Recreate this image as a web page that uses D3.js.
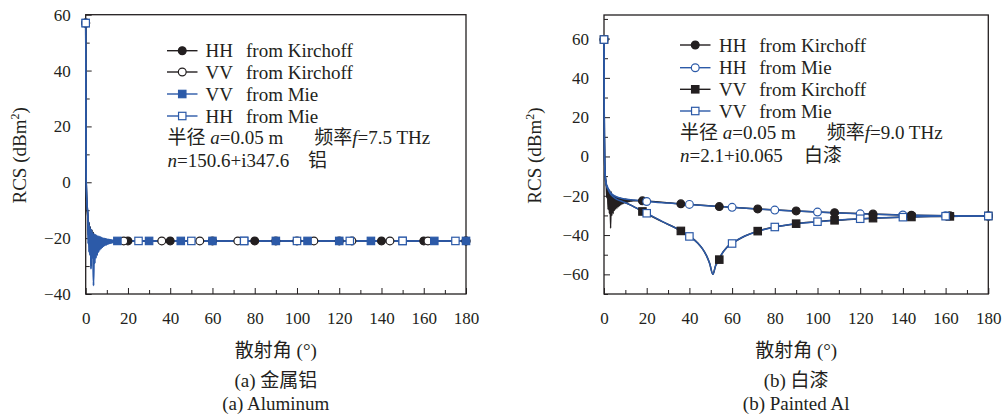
<!DOCTYPE html>
<html>
<head>
<meta charset="utf-8">
<script src="https://cdn.jsdelivr.net/npm/d3@7"></script>
<style>
  body { margin: 0; background: #fff; }
  svg { display: block; }
  text { font-family: "Liberation Serif", "Times New Roman", Times, "DejaVu Serif", serif, "Noto Sans CJK SC"; fill: #231f20; }
</style>
</head>
<body>
<svg id="chart" width="1002" height="416"></svg>
<script>
// ---------- (a) aluminium, f = 7.5 THz : [angle (deg), RCS (dBm^2)] ----------
// HH and VV from Mie lie on top of each other, same for the Kirchhoff pair
const aMie = [
  [0, 57], [0.04, 45], [0.08, 32], [0.12, 18], [0.18, 6], [0.3, -1], [0.5, -6], [0.75, -9],
  [1.0, -11], [1.2, -22], [1.4, -14], [1.6, -25], [1.8, -15.5], [2.0, -26], [2.2, -16.5],
  [2.5, -31], [2.8, -17], [3.1, -27], [3.4, -18], [3.7, -37], [4.0, -18.5], [4.3, -29],
  [4.6, -18.8], [4.9, -27], [5.2, -19], [5.5, -26], [5.8, -19.2], [6.1, -25], [6.4, -19.4],
  [6.7, -24.2], [7.0, -19.6], [7.3, -23.7], [7.6, -19.8], [7.9, -23.3], [8.2, -20], [8.5, -22.9],
  [8.8, -20.1], [9.1, -22.6], [9.4, -20.2], [9.7, -22.4], [10.0, -20.3], [10.3, -22.2],
  [10.6, -20.4], [10.9, -22], [11.2, -20.5], [11.5, -21.9], [11.8, -20.6], [12.1, -21.7],
  [12.4, -20.7], [12.7, -21.6], [13.0, -20.8], [13.3, -21.5], [13.6, -20.9], [13.9, -21.4],
  [14.2, -21], [14.5, -21.3],
  [15, -21], [25, -21], [30, -21], [45, -21], [50, -21], [60, -21], [75, -21], [90, -21],
  [100, -21], [105, -21], [120, -21], [125, -21], [135, -21], [150, -21], [165, -21],
  [175, -21], [180, -21]
];
const aKirch = [
  [0, 57], [0.04, 45], [0.08, 30], [0.12, 16], [0.18, 5], [0.3, -2], [0.5, -7], [0.75, -10],
  [1.0, -12.5], [1.3, -19], [1.6, -14.5], [1.9, -24], [2.2, -16], [2.6, -30], [2.9, -17],
  [3.2, -25], [3.6, -18], [4.0, -24], [4.5, -19], [5.0, -23], [5.6, -20], [6.3, -22.5],
  [7.0, -20.5], [8, -22], [9, -20.8], [10.5, -21.5], [12, -21], [15, -21],
  [18, -21], [20, -21], [36, -21], [40, -21], [54, -21], [60, -21], [72, -21], [80, -21],
  [90, -21], [100, -21], [108, -21], [120, -21], [126, -21], [140, -21], [144, -21],
  [160, -21], [162, -21], [180, -21]
];
const aMarkHHKirch = [0, 20, 40, 60, 80, 100, 120, 140, 160, 180];
const aMarkVVKirch = [0, 18, 36, 54, 72, 90, 108, 126, 144, 162, 180];
const aMarkVVMie = [0, 15, 30, 45, 60, 75, 90, 105, 120, 135, 150, 165, 180];
const aMarkHHMie = [0, 25, 50, 75, 100, 125, 150, 175];

// ---------- (b) painted Al, f = 9.0 THz ----------
const bHHKirch = [
  [0, 59.5], [0.04, 48], [0.08, 35], [0.12, 22], [0.18, 10], [0.3, -2], [0.5, -8], [0.75, -11.5],
  [1.0, -13.5], [1.3, -21], [1.6, -15], [1.9, -27], [2.2, -16.5], [2.5, -29], [2.8, -17.5],
  [3.1, -36.5], [3.4, -18], [3.7, -30], [4.0, -19.3], [4.3, -29], [4.6, -19.8], [4.9, -27.5],
  [5.2, -20.2], [5.5, -26.8], [5.8, -20.5], [6.1, -26.2], [6.4, -20.8], [6.7, -25.6], [7.0, -21],
  [7.3, -25.1], [7.6, -21.2], [7.9, -24.6], [8.2, -21.4], [8.5, -24.2], [8.8, -21.5],
  [9.1, -23.9], [9.4, -21.6], [9.7, -23.6], [10.0, -21.7], [10.3, -23.4], [10.6, -21.8],
  [10.9, -23.2], [11.2, -21.9], [11.5, -23], [11.8, -22], [12.1, -22.9], [12.4, -22.1],
  [12.7, -22.8], [13.0, -22.2], [13.3, -22.7], [13.6, -22.3], [13.9, -22.6], [14.2, -22.4],
  [18, -22.6], [36, -24.1], [54, -25.5], [72, -26.7], [90, -27.7], [108, -28.6], [126, -29.3],
  [144, -29.9], [162, -30.2], [180, -30.3]
];
const bHHMie = [
  [0, 59.5], [0.04, 48], [0.08, 35], [0.12, 22], [0.18, 10], [0.3, -2], [0.5, -8], [0.8, -12],
  [1.2, -14.2], [2, -16.3], [3, -18.3], [4.4, -19.7], [6, -20.6], [9, -21.5], [14, -22.2],
  [20, -22.9], [30, -23.7], [40, -24.4], [50, -25.2], [60, -25.9], [70, -26.6], [80, -27.3],
  [90, -27.8], [100, -28.3], [110, -28.8], [120, -29.2], [130, -29.5], [140, -29.8],
  [150, -30], [160, -30.2], [170, -30.3], [180, -30.3]
];
const bVVKirch = [
  [0, 59.5], [0.04, 48], [0.08, 35], [0.12, 22], [0.18, 10], [0.3, -2.5], [0.5, -9], [0.8, -13],
  [1.2, -15], [2, -17], [3, -19], [4.4, -20.6], [6, -21.8], [9, -23.1], [12, -24.5], [15, -26.2],
  [18, -28], [27, -33], [36, -37.9], [44, -44.2], [46, -46.8], [48, -50.5], [49.5, -54.5],
  [51, -60], [52.3, -55.5], [53.5, -53.5], [54, -52.5], [55, -50], [57.5, -46.3], [60, -44.3],
  [66, -40.5], [72, -38], [81, -35.7], [90, -34.2], [99, -33.3], [108, -32.5], [117, -31.9],
  [126, -31.4], [135, -31.1], [144, -30.8], [153, -30.6], [162, -30.5], [171, -30.4], [180, -30.3]
];
const bVVMie = [
  [0, 59.5], [0.04, 48], [0.08, 35], [0.12, 22], [0.18, 10], [0.3, -2.5], [0.5, -9], [0.8, -13],
  [1.2, -15], [2, -17], [3, -19], [4.4, -20.6], [6, -21.8], [9, -23.1], [12, -24.5], [15, -26.2],
  [20, -28.9], [25, -31.8], [30, -34.6], [35, -37.2], [40, -40.7], [44, -44.2], [46, -46.8],
  [48, -50.5], [49.5, -54.5], [51, -60], [52.3, -55.5], [53.5, -53.5], [55, -50], [57.5, -46.3],
  [60, -44.3], [65, -41], [70, -38.8], [75, -37.2], [80, -35.9], [90, -34.2], [100, -33.2],
  [110, -32.3], [120, -31.7], [130, -31.2], [140, -30.9], [150, -30.6], [160, -30.4],
  [170, -30.3], [180, -30.3]
];
const bMarkKirch = [0, 18, 36, 54, 72, 90, 108, 126, 144, 162, 180];
const bMarkMie = [0, 20, 40, 60, 80, 100, 120, 140, 160, 180];

// ---------- ticks ----------
const xTicks = [0, 20, 40, 60, 80, 100, 120, 140, 160, 180];
const xMinor = [10, 30, 50, 70, 90, 110, 130, 150, 170];
const aYTicks = [-40, -20, 0, 20, 40, 60];
const aYMinor = [-30, -10, 10, 30, 50];
const bYTicks = [-60, -40, -20, 0, 20, 40, 60];
const bYMinor = [-70, -50, -30, -10, 10, 30, 50, 70];

const BLACK = '#231f20';
const BLUE = '#2c5aa8';

const svg = d3.select('#chart');

const panels = [
  {
    left: 85.7, right: 466, top: 14.7, bottom: 294, yDomain: [-40, 60],
    yTicks: aYTicks, yMinor: aYMinor, labelX: 26,
    series: [
      { pol: 'HH', src: 'Kirchoff', data: aKirch, marks: aMarkHHKirch, color: BLACK, shape: 'circle', fill: true },
      { pol: 'VV', src: 'Kirchoff', data: aKirch, marks: aMarkVVKirch, color: BLACK, shape: 'circle', fill: false },
      { pol: 'VV', src: 'Mie', data: aMie, marks: aMarkVVMie, color: BLUE, shape: 'square', fill: true },
      { pol: 'HH', src: 'Mie', data: aMie, marks: aMarkHHMie, color: BLUE, shape: 'square', fill: false }
    ],
    legend: { x0: 167, x1: 197.5, tx: 205.5, tx2: 246, y: [50.7, 72, 94, 116] },
    info: { y1: 144, y2: 166.5, x1: 167.5, x2: 314.3, f: '7.5', n: '150.6+i347.6', mat: '铝', matX: 308 },
    cap1: '(a) 金属铝', cap2: '(a) Aluminum'
  },
  {
    left: 604, right: 988.3, top: 15, bottom: 294, yDomain: [-70, 72],
    yTicks: bYTicks, yMinor: bYMinor, labelX: 541,
    series: [
      { pol: 'HH', src: 'Kirchoff', data: bHHKirch, marks: bMarkKirch, color: BLACK, shape: 'circle', fill: true },
      { pol: 'HH', src: 'Mie', data: bHHMie, marks: bMarkMie, color: BLUE, shape: 'circle', fill: false },
      { pol: 'VV', src: 'Kirchoff', data: bVVKirch, marks: bMarkKirch, color: BLACK, shape: 'square', fill: true },
      { pol: 'VV', src: 'Mie', data: bVVMie, marks: bMarkMie, color: BLUE, shape: 'square', fill: false }
    ],
    legend: { x0: 680, x1: 710.5, tx: 719, tx2: 759.3, y: [45, 67.7, 89.3, 111] },
    info: { y1: 139, y2: 162, x1: 680, x2: 826.7, f: '9.0', n: '2.1+i0.065', mat: '白漆', matX: 804 },
    cap1: '(b) 白漆', cap2: '(b) Painted Al'
  }
];

function drawMarker(g, cx, cy, s) {
  if (s.shape === 'circle') {
    g.append('circle')
      .attr('cx', cx).attr('cy', cy).attr('r', 3.9)
      .attr('fill', s.fill ? s.color : '#fff')
      .attr('stroke', s.color).attr('stroke-width', 1.2);
  } else {
    g.append('rect')
      .attr('x', cx - 3.7).attr('y', cy - 3.7).attr('width', 7.4).attr('height', 7.4)
      .attr('fill', s.fill ? s.color : '#fff')
      .attr('stroke', s.color).attr('stroke-width', 1.2);
  }
}

panels.forEach(p => {
  const x = d3.scaleLinear().domain([0, 180]).range([p.left, p.right]);
  const y = d3.scaleLinear().domain(p.yDomain).range([p.bottom, p.top]);
  const g = svg.append('g');

  // axes, ticks pointing inward
  const styleAxis = ax => {
    ax.select('.domain').remove();
    ax.attr('font-family', null).attr('font-size', 17).attr('color', BLACK);
    ax.selectAll('line').attr('stroke-width', 1);
  };
  g.append('g').attr('transform', `translate(0,${p.bottom})`)
    .call(d3.axisBottom(x).tickValues(xMinor).tickSize(-4).tickFormat(''))
    .call(styleAxis);
  g.append('g').attr('transform', `translate(0,${p.bottom})`)
    .call(d3.axisBottom(x).tickValues(xTicks).tickSize(-6).tickPadding(18))
    .call(styleAxis);
  g.append('g').attr('transform', `translate(${p.left},0)`)
    .call(d3.axisLeft(y).tickValues(p.yMinor).tickSize(-4).tickFormat(''))
    .call(styleAxis);
  g.append('g').attr('transform', `translate(${p.left},0)`)
    .call(d3.axisLeft(y).tickValues(p.yTicks).tickSize(-6).tickPadding(15))
    .call(styleAxis);

  g.append('rect')
    .attr('x', p.left).attr('y', p.top)
    .attr('width', p.right - p.left).attr('height', p.bottom - p.top)
    .attr('fill', 'none').attr('stroke', BLACK).attr('stroke-width', 1.3);

  // lines: Kirchhoff under Mie
  const line = d3.line().x(d => x(d[0])).y(d => y(d[1])).curve(d3.curveMonotoneX);
  const ordered = p.series.filter(s => s.color === BLACK).concat(p.series.filter(s => s.color === BLUE));
  ordered.forEach(s => {
    g.append('path').datum(s.data)
      .attr('d', line)
      .attr('fill', 'none')
      .attr('stroke', s.color)
      .attr('stroke-width', 1.5);
  });

  // markers, in legend order
  p.series.forEach(s => {
    const mg = g.append('g');
    s.marks.forEach(a => {
      const pt = s.data.find(d => d[0] === a);
      drawMarker(mg, x(pt[0]), y(pt[1]), s);
    });
  });

  // legend
  const L = p.legend;
  p.series.forEach((s, i) => {
    const ly = L.y[i];
    g.append('line')
      .attr('x1', L.x0).attr('x2', L.x1).attr('y1', ly).attr('y2', ly)
      .attr('stroke', s.color).attr('stroke-width', 1.4);
    drawMarker(g, (L.x0 + L.x1) / 2, ly, s);
    g.append('text').attr('x', L.tx).attr('y', ly + 6.5).attr('font-size', 19).text(s.pol);
    g.append('text').attr('x', L.tx2).attr('y', ly + 6.5).attr('font-size', 19).text('from ' + s.src);
  });

  // parameters
  const I = p.info;
  const t1 = g.append('text').attr('x', I.x1).attr('y', I.y1).attr('font-size', 19);
  t1.append('tspan').text('半径 ');
  t1.append('tspan').attr('font-style', 'italic').text('a');
  t1.append('tspan').text('=0.05 m');
  const t2 = g.append('text').attr('x', I.x2).attr('y', I.y1).attr('font-size', 19);
  t2.append('tspan').text('频率');
  t2.append('tspan').attr('font-style', 'italic').text('f');
  t2.append('tspan').text('=' + I.f + ' THz');
  const t3 = g.append('text').attr('x', I.x1).attr('y', I.y2).attr('font-size', 19);
  t3.append('tspan').attr('font-style', 'italic').text('n');
  t3.append('tspan').text('=' + I.n);
  g.append('text').attr('x', I.matX).attr('y', I.y2).attr('font-size', 19).text(I.mat);

  // axis titles
  const yl = g.append('text')
    .attr('transform', `translate(${p.labelX},${(p.top + p.bottom) / 2 + 1}) rotate(-90)`)
    .attr('text-anchor', 'middle').attr('font-size', 19);
  yl.append('tspan').text('RCS (dBm');
  yl.append('tspan').attr('font-size', 12).attr('dy', -7).text('2');
  yl.append('tspan').attr('dy', 7).text(')');

  const cx = (p.left + p.right) / 2;
  g.append('text').attr('x', cx).attr('y', 357).attr('text-anchor', 'middle').attr('font-size', 19).text('散射角 (°)');
  g.append('text').attr('x', cx).attr('y', 387).attr('text-anchor', 'middle').attr('font-size', 19).text(p.cap1);
  g.append('text').attr('x', cx).attr('y', 410).attr('text-anchor', 'middle').attr('font-size', 19).text(p.cap2);
});
</script>
</body>
</html>
